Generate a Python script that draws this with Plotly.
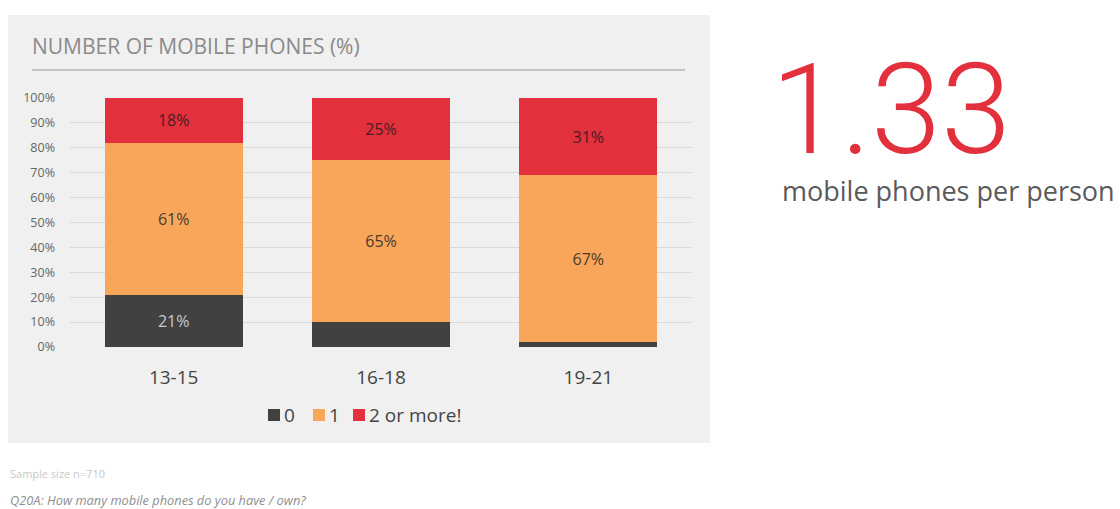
import plotly.graph_objects as go

# Share of young people by number of mobile phones owned
age_groups = ["13-15", "16-18", "19-21"]
share_none = [21, 10, 2]
share_one = [61, 65, 67]
share_two_plus = [18, 25, 31]
y_ticks = [0, 10, 20, 30, 40, 50, 60, 70, 80, 90, 100]
y_tick_labels = [f"{v}%" for v in y_ticks]
phones_per_person = "1.33"

W, H = 1120, 509
L, R, T, B = 70, 692, 98, 347  # plot area in pixels


def px(x):
    return (x - L) / (R - L)


def py(y):
    return (B - y) / (B - T)


def labels(vals, min_show=15):
    return [f"{v}%" if v >= min_show else "" for v in vals]


series = [
    ("0", share_none, "#414141", "#c9c9c9"),
    ("1", share_one, "#f8a65a", "#4a3a2e"),
    ("2 or more!", share_two_plus, "#e3303d", "#4a1c22"),
]

fig = go.Figure()
for name, vals, color, text_color in series:
    fig.add_trace(go.Bar(
        x=age_groups, y=vals, name=name,
        marker=dict(color=color, line=dict(width=0)),
        text=labels(vals), textposition="inside", insidetextanchor="middle",
        textfont=dict(family="Open Sans", size=16, color=text_color),
        hoverinfo="skip", showlegend=False,
    ))

shapes = [
    # grey panel behind the chart
    dict(type="rect", xref="paper", yref="paper", layer="below",
         x0=px(8), x1=px(710), y0=py(443), y1=py(15),
         fillcolor="#f0f0f0", line=dict(width=0)),
    # rule under the title
    dict(type="line", xref="paper", yref="paper",
         x0=px(32), x1=px(685), y0=py(70), y1=py(70),
         line=dict(color="#c4c4c4", width=2)),
]

annotations = [
    dict(text="NUMBER OF MOBILE PHONES (%)", xref="paper", yref="paper",
         x=px(30), y=py(46), xanchor="left", yanchor="middle", showarrow=False,
         font=dict(family="Open Sans", size=21, color="#8a8a8a")),
    dict(text=phones_per_person, xref="paper", yref="paper",
         x=px(769), y=py(110), xanchor="left", yanchor="middle", showarrow=False,
         font=dict(family="Roboto", size=126, color="#e3303d", weight=300)),
    dict(text="mobile phones per person", xref="paper", yref="paper",
         x=px(780), y=py(190), xanchor="left", yanchor="middle", showarrow=False,
         font=dict(family="Open Sans", size=27, color="#5a5a5a")),
    dict(text="Sample size n=710", xref="paper", yref="paper",
         x=px(8), y=py(473), xanchor="left", yanchor="middle", showarrow=False,
         font=dict(family="Open Sans", size=11, color="#c8c8c8")),
    dict(text="<i>Q20A: How many mobile phones do you have / own?</i>", xref="paper", yref="paper",
         x=px(8), y=py(500), xanchor="left", yanchor="middle", showarrow=False,
         font=dict(family="Open Sans", size=12.8, color="#8f8f8f")),
]

# legend row: a coloured square followed by each series name
legend_left = [268, 313, 353]
for (name, _, color, _), x0 in zip(series, legend_left):
    shapes.append(dict(type="rect", xref="paper", yref="paper",
                       x0=px(x0), x1=px(x0 + 12), y0=py(421), y1=py(409),
                       fillcolor=color, line=dict(width=0)))
    annotations.append(dict(text=name, xref="paper", yref="paper",
                            x=px(x0 + 14), y=py(415), xanchor="left", yanchor="middle",
                            showarrow=False,
                            font=dict(family="Open Sans", size=19, color="#444444")))

fig.update_layout(
    width=W, height=H,
    margin=dict(l=L, r=W - R, t=T, b=H - B, pad=0),
    paper_bgcolor="white", plot_bgcolor="rgba(0,0,0,0)",
    barmode="stack", bargap=0.335,
    showlegend=False,
    shapes=shapes, annotations=annotations,
    xaxis=dict(showgrid=False, showline=False, zeroline=False, ticks="",
               tickfont=dict(family="Open Sans", size=19, color="#444444"),
               ticklabelstandoff=17),
    yaxis=dict(range=[0, 100], tickvals=y_ticks, ticktext=y_tick_labels,
               showgrid=True, gridcolor="#d9d9d9", gridwidth=1, zeroline=False,
               showline=False, ticks="", ticklabelstandoff=14,
               tickfont=dict(family="Open Sans", size=12.5, color="#666666")),
    uniformtext=dict(minsize=8, mode="show"),
)

fig.write_html("out.html")
